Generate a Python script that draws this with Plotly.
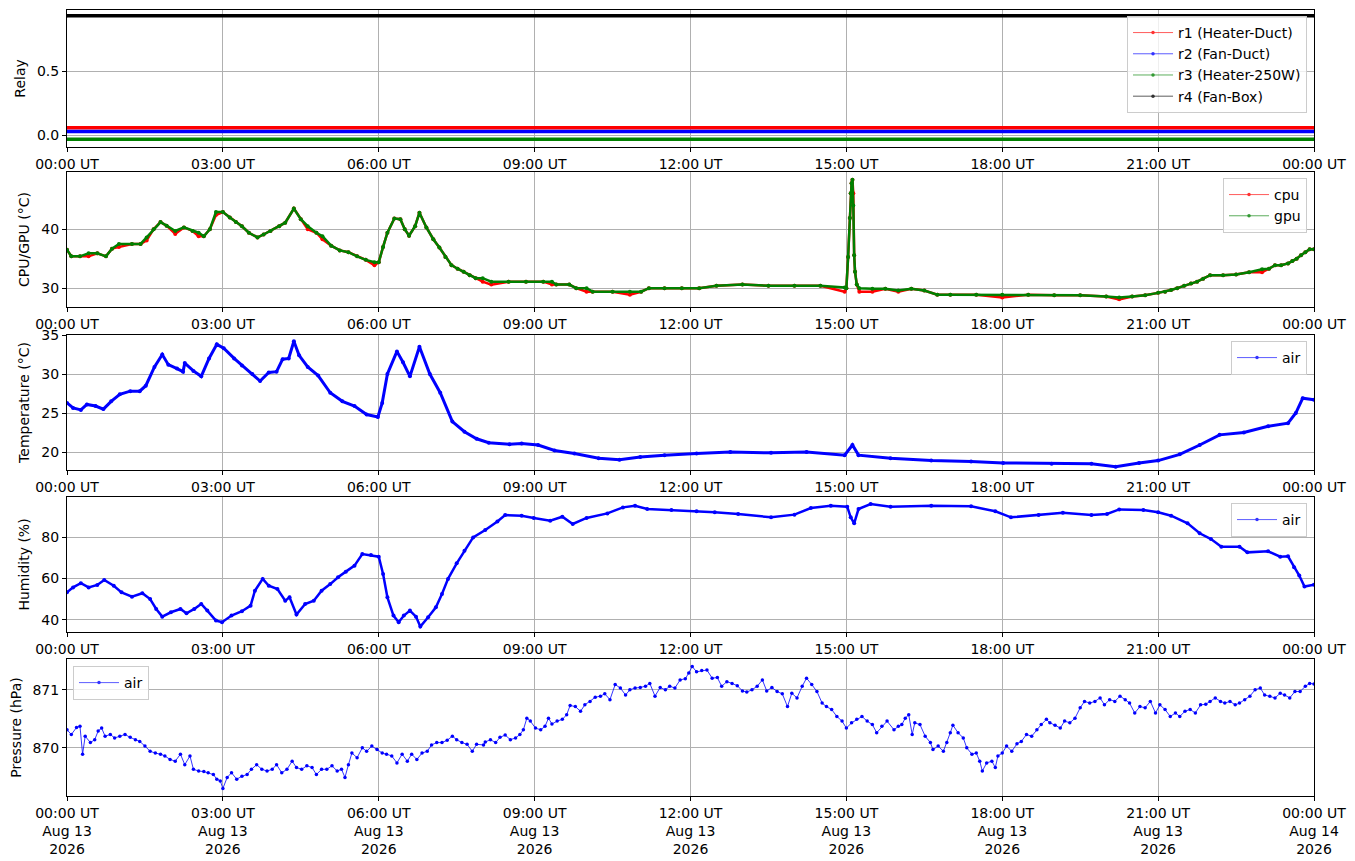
import pandas as pd
import plotly.graph_objects as go
from plotly.subplots import make_subplots

# ---- data (UT, 2026-08-13) ----
relay_times = ["00:00", "24:00"]
r1_vals = [0.06, 0.06]
r2_vals = [0.03, 0.03]
r3_vals = [-0.03, -0.03]
r4_vals = [0.93, 0.93]

chip_times = ["00:00", "00:05", "00:15", "00:25", "00:35", "00:45", "00:52", "01:00", "01:15", "01:25",
              "01:32", "01:40", "01:48", "01:55", "02:05", "02:15", "02:25", "02:32", "02:38", "02:45",
              "02:52", "03:00", "03:08", "03:15", "03:22", "03:30", "03:40", "03:47", "03:55", "04:05",
              "04:12", "04:22", "04:30", "04:38", "04:48", "04:55", "05:05", "05:15", "05:25", "05:35",
              "05:45", "05:55", "06:00", "06:05", "06:10", "06:18", "06:25", "06:30", "06:35", "06:42",
              "06:47", "06:55", "07:03", "07:10", "07:17", "07:24", "07:31", "07:38", "07:45", "07:52",
              "08:00", "08:10", "08:30", "08:50", "09:10", "09:20", "09:25", "09:40", "09:48", "10:00",
              "10:07", "10:30", "10:50", "11:03", "11:12", "11:30", "11:50", "12:10", "12:30", "13:00",
              "13:30", "14:00", "14:30", "14:58", "15:00", "15:02", "15:04", "15:05", "15:06", "15:07",
              "15:08", "15:09", "15:10", "15:12", "15:15", "15:30", "15:45", "16:00", "16:15", "16:30",
              "16:45", "17:00", "17:30", "18:00", "18:30", "19:00", "19:30", "20:00", "20:15", "20:30",
              "20:45", "21:00", "21:08", "21:15", "21:22", "21:30", "21:38", "21:45", "21:52", "22:00",
              "22:15", "22:30", "22:45", "23:00", "23:08", "23:15", "23:22", "23:30", "23:35", "23:40",
              "23:45", "23:50", "23:55", "24:00"]
cpu_vals = [36.5, 35.4, 35.4, 35.4, 35.9, 35.4, 36.7, 37.0, 37.5, 37.5,
            38.1, 40.0, 41.2, 40.6, 39.2, 40.3, 39.7, 38.8, 38.8, 40.0,
            42.4, 42.9, 42.0, 41.2, 40.5, 39.4, 38.6, 39.1, 39.7, 40.5,
            41.1, 43.5, 41.7, 40.0, 39.4, 38.3, 37.2, 36.4, 36.1, 35.4,
            34.8, 33.9, 34.4, 37.0, 39.4, 41.8, 41.7, 40.0, 38.9, 40.5,
            42.8, 40.3, 38.3, 36.9, 35.3, 33.9, 33.3, 32.8, 32.2, 31.7,
            31.1, 30.6, 31.1, 31.1, 31.1, 30.6, 30.6, 30.6, 30.0, 29.4,
            29.4, 29.4, 28.9, 29.4, 30.0, 30.0, 30.0, 30.0, 30.4, 30.6,
            30.4, 30.4, 30.4, 29.4, 30.0, 35.3, 41.9, 46.1, 47.8, 48.4,
            46.1, 35.6, 32.8, 30.6, 29.4, 29.4, 29.9, 29.4, 29.9, 29.6,
            28.9, 28.9, 28.9, 28.4, 28.9, 28.8, 28.8, 28.6, 28.1, 28.6,
            28.8, 29.2, 29.4, 29.7, 30.0, 30.4, 30.8, 31.1, 31.6, 32.2,
            32.2, 32.3, 32.7, 32.7, 33.3, 33.9, 33.9, 34.2, 34.6, 35.0,
            35.6, 36.1, 36.6, 36.6]
gpu_vals = [36.5, 35.4, 35.4, 35.9, 35.9, 35.4, 36.7, 37.5, 37.5, 37.5,
            38.6, 40.0, 41.2, 40.6, 39.7, 40.3, 39.7, 39.4, 38.8, 40.0,
            42.9, 42.9, 42.0, 41.2, 40.5, 39.4, 38.6, 39.1, 39.7, 40.5,
            41.1, 43.5, 41.7, 40.5, 39.4, 38.8, 37.2, 36.4, 36.1, 35.4,
            34.8, 34.4, 34.4, 37.0, 39.4, 41.8, 41.7, 40.0, 38.9, 40.5,
            42.8, 40.3, 38.3, 36.9, 35.3, 33.9, 33.3, 32.8, 32.2, 31.7,
            31.7, 31.1, 31.1, 31.1, 31.1, 31.1, 30.6, 30.6, 30.0, 30.0,
            29.4, 29.4, 29.4, 29.4, 30.0, 30.0, 30.0, 30.0, 30.4, 30.6,
            30.4, 30.4, 30.4, 30.1, 30.0, 35.3, 41.9, 46.1, 47.8, 48.4,
            44.0, 35.6, 32.8, 30.6, 30.0, 29.9, 29.9, 29.6, 29.9, 29.6,
            28.9, 28.9, 28.9, 28.9, 28.9, 28.8, 28.8, 28.6, 28.4, 28.6,
            28.8, 29.2, 29.4, 29.7, 30.0, 30.4, 30.8, 31.1, 31.6, 32.2,
            32.2, 32.3, 32.7, 33.2, 33.3, 33.9, 33.9, 34.2, 34.6, 35.0,
            35.6, 36.1, 36.6, 36.6]

temp_times = ["00:00", "00:07", "00:16", "00:23", "00:33", "00:42", "00:51", "01:01", "01:13", "01:24",
              "01:31", "01:41", "01:50", "01:57", "02:07", "02:14", "02:16", "02:26", "02:35", "02:44",
              "02:53", "03:01", "03:13", "03:22", "03:34", "03:43", "03:53", "04:02", "04:09", "04:16",
              "04:22", "04:28", "04:38", "04:50", "05:04", "05:18", "05:32", "05:46", "05:59", "06:04",
              "06:10", "06:21", "06:28", "06:36", "06:47", "06:59", "07:11", "07:25", "07:39", "07:53",
              "08:07", "08:31", "08:45", "09:04", "09:23", "09:46", "10:14", "10:38", "11:02", "11:30",
              "12:07", "12:46", "13:33", "14:14", "14:58", "15:07", "15:14", "15:51", "16:38", "17:24",
              "18:01", "18:57", "19:43", "20:11", "20:38", "21:00", "21:25", "21:48", "22:11", "22:39",
              "23:07", "23:30", "23:39", "23:47", "24:00"]
temp_vals = [26.3, 25.65, 25.4, 26.1, 25.9, 25.5, 26.5, 27.4, 27.8, 27.8,
             28.5, 30.9, 32.5, 31.2, 30.7, 30.3, 31.4, 30.4, 29.7, 32.0,
             33.8, 33.3, 32.0, 31.1, 30.0, 29.1, 30.2, 30.3, 31.9, 32.0,
             34.2, 32.4, 30.9, 29.8, 27.6, 26.5, 25.9, 24.8, 24.5, 26.3,
             30.0, 32.9, 31.5, 29.7, 33.5, 30.0, 27.6, 23.9, 22.6, 21.7,
             21.2, 21.0, 21.1, 20.9, 20.2, 19.8, 19.2, 19.0, 19.35, 19.6,
             19.8, 20.0, 19.9, 20.0, 19.6, 20.9, 19.6, 19.2, 18.9, 18.8,
             18.6, 18.5, 18.5, 18.1, 18.6, 18.9, 19.7, 20.9, 22.2, 22.5,
             23.3, 23.7, 25.0, 26.9, 26.7]

hum_times = ["00:00", "00:07", "00:16", "00:25", "00:35", "00:43", "00:54", "01:03", "01:15", "01:27",
             "01:36", "01:43", "01:50", "02:00", "02:11", "02:18", "02:27", "02:35", "02:42", "02:52",
             "02:59", "03:10", "03:22", "03:32", "03:37", "03:46", "03:53", "04:03", "04:12", "04:17",
             "04:25", "04:35", "04:45", "04:54", "05:04", "05:13", "05:22", "05:32", "05:41", "05:51",
             "06:00", "06:05", "06:10", "06:17", "06:23", "06:29", "06:36", "06:43", "06:48", "06:57",
             "07:06", "07:13", "07:20", "07:30", "07:39", "07:49", "08:03", "08:17", "08:26", "08:45",
             "08:59", "09:18", "09:32", "09:44", "10:00", "10:24", "10:42", "10:56", "11:10", "11:38",
             "12:07", "12:28", "12:55", "13:33", "14:00", "14:19", "14:42", "15:01", "15:05", "15:09",
             "15:14", "15:28", "15:51", "16:38", "17:24", "17:52", "18:10", "18:42", "19:10", "19:43",
             "20:01", "20:15", "20:43", "21:00", "21:15", "21:34", "21:48", "22:01", "22:13", "22:34",
             "22:43", "23:07", "23:21", "23:30", "23:37", "23:43", "23:49", "24:00"]
hum_vals = [53.3, 55.7, 57.7, 55.7, 56.9, 59.3, 56.5, 53.3, 51.2, 52.9,
            50.1, 45.3, 41.6, 43.7, 45.3, 43.2, 45.3, 47.7, 44.5, 39.7,
            38.9, 42.1, 44.2, 46.9, 54.1, 59.8, 56.5, 54.9, 49.3, 50.9,
            42.6, 47.7, 49.3, 54.1, 57.3, 60.6, 63.3, 66.2, 71.8, 71.3,
            70.5, 62.2, 50.9, 42.1, 38.9, 42.1, 44.5, 41.6, 36.8, 41.3,
            46.1, 52.5, 59.8, 67.3, 73.4, 79.8, 83.4, 87.5, 90.6, 90.3,
            89.2, 87.9, 89.8, 86.3, 89.2, 91.4, 94.3, 95.1, 93.5, 93.0,
            92.4, 91.9, 91.1, 89.5, 90.8, 94.0, 95.1, 94.6, 89.5, 86.6,
            93.5, 95.9, 94.6, 95.1, 94.8, 92.4, 89.5, 90.6, 91.7, 90.6,
            91.1, 93.3, 93.0, 91.9, 90.3, 86.6, 81.8, 79.0, 75.3, 75.3,
            72.6, 73.1, 70.5, 70.7, 65.4, 61.4, 56.1, 57.0]

pres_times = ["00:00", "00:05", "00:11", "00:15", "00:18", "00:21", "00:27", "00:32", "00:36", "00:40",
              "00:44", "00:50", "00:55", "01:01", "01:07", "01:13", "01:19", "01:24", "01:30", "01:36",
              "01:42", "01:48", "01:53", "01:59", "02:05", "02:11", "02:16", "02:22", "02:26", "02:32",
              "02:38", "02:43", "02:49", "02:53", "02:57", "03:00", "03:05", "03:10", "03:16", "03:22",
              "03:28", "03:33", "03:39", "03:45", "03:51", "03:57", "04:02", "04:08", "04:14", "04:20",
              "04:25", "04:31", "04:37", "04:43", "04:48", "04:54", "05:00", "05:06", "05:12", "05:17",
              "05:21", "05:25", "05:29", "05:35", "05:41", "05:46", "05:52", "05:58", "06:04", "06:09",
              "06:15", "06:21", "06:27", "06:33", "06:38", "06:44", "06:50", "06:56", "07:01", "07:07",
              "07:13", "07:19", "07:25", "07:30", "07:36", "07:42", "07:48", "07:53", "08:01", "08:03",
              "08:09", "08:15", "08:20", "08:26", "08:32", "08:38", "08:43", "08:47", "08:51", "08:55",
              "09:01", "09:07", "09:12", "09:16", "09:20", "09:26", "09:32", "09:37", "09:41", "09:47",
              "09:53", "09:58", "10:04", "10:10", "10:16", "10:21", "10:27", "10:33", "10:39", "10:45",
              "10:50", "10:56", "11:02", "11:08", "11:13", "11:19", "11:25", "11:31", "11:36", "11:42",
              "11:48", "11:54", "11:58", "12:02", "12:07", "12:13", "12:19", "12:25", "12:31", "12:36",
              "12:42", "12:48", "12:54", "13:00", "13:05", "13:11", "13:17", "13:23", "13:28", "13:34",
              "13:40", "13:46", "13:52", "13:57", "14:03", "14:09", "14:14", "14:20", "14:26", "14:32",
              "14:37", "14:43", "14:49", "14:55", "15:00", "15:06", "15:12", "15:18", "15:24", "15:30",
              "15:35", "15:41", "15:47", "15:55", "16:00", "16:04", "16:08", "16:12", "16:16", "16:19",
              "16:25", "16:31", "16:37", "16:40", "16:46", "16:52", "16:56", "17:00", "17:03", "17:09",
              "17:15", "17:19", "17:25", "17:30", "17:34", "17:37", "17:42", "17:48", "17:52", "17:55",
              "18:00", "18:05", "18:11", "18:17", "18:22", "18:28", "18:34", "18:40", "18:45", "18:51",
              "18:55", "19:01", "19:07", "19:12", "19:18", "19:24", "19:30", "19:35", "19:41", "19:47",
              "19:53", "19:58", "20:04", "20:10", "20:16", "20:22", "20:27", "20:33", "20:39", "20:45",
              "20:51", "20:57", "21:02", "21:08", "21:14", "21:20", "21:25", "21:31", "21:37", "21:43",
              "21:49", "21:55", "22:00", "22:06", "22:12", "22:17", "22:23", "22:29", "22:34", "22:40",
              "22:46", "22:52", "22:58", "23:03", "23:09", "23:15", "23:21", "23:26", "23:32", "23:38",
              "23:44", "23:50", "23:55", "24:00"]
pres_vals = [870.31, 870.23, 870.35, 870.37, 869.89, 870.20, 870.09, 870.14, 870.29, 870.34,
             870.20, 870.23, 870.17, 870.20, 870.23, 870.18, 870.14, 870.11, 870.03, 869.94,
             869.91, 869.89, 869.86, 869.80, 869.77, 869.89, 869.71, 869.86, 869.63, 869.60,
             869.59, 869.57, 869.54, 869.46, 869.43, 869.30, 869.49, 869.57, 869.46, 869.51,
             869.54, 869.63, 869.71, 869.63, 869.60, 869.63, 869.71, 869.57, 869.63, 869.77,
             869.66, 869.63, 869.69, 869.66, 869.54, 869.63, 869.63, 869.69, 869.60, 869.63,
             869.49, 869.71, 869.91, 869.83, 870.00, 869.94, 870.03, 869.97, 869.91, 869.89,
             869.86, 869.74, 869.89, 869.77, 869.89, 869.80, 869.91, 869.94, 870.05, 870.09,
             870.09, 870.13, 870.20, 870.14, 870.09, 870.06, 869.94, 870.06, 870.05, 870.10,
             870.14, 870.09, 870.18, 870.22, 870.14, 870.17, 870.23, 870.31, 870.51, 870.46,
             870.34, 870.31, 870.37, 870.51, 870.41, 870.46, 870.49, 870.57, 870.73, 870.71,
             870.63, 870.74, 870.80, 870.87, 870.89, 870.93, 870.83, 871.09, 871.03, 870.91,
             871.00, 871.03, 871.04, 871.06, 871.11, 870.89, 871.04, 871.00, 871.06, 871.03,
             871.17, 871.19, 871.29, 871.40, 871.31, 871.33, 871.34, 871.20, 871.21, 871.06,
             871.14, 871.11, 871.07, 870.98, 870.96, 871.00, 871.06, 871.17, 870.98, 871.04,
             870.97, 870.93, 870.71, 870.94, 870.86, 871.06, 871.20, 871.09, 870.97, 870.77,
             870.71, 870.66, 870.54, 870.46, 870.34, 870.43, 870.49, 870.54, 870.46, 870.40,
             870.26, 870.37, 870.46, 870.31, 870.37, 870.40, 870.51, 870.57, 870.23, 870.43,
             870.40, 870.20, 870.09, 869.97, 870.03, 869.94, 870.09, 870.26, 870.39, 870.26,
             870.17, 870.00, 869.89, 869.91, 869.77, 869.60, 869.74, 869.77, 869.66, 869.86,
             869.91, 870.03, 869.94, 870.07, 870.11, 870.23, 870.20, 870.31, 870.40, 870.49,
             870.43, 870.39, 870.34, 870.46, 870.43, 870.51, 870.69, 870.80, 870.77, 870.80,
             870.86, 870.74, 870.83, 870.80, 870.89, 870.83, 870.77, 870.60, 870.71, 870.69,
             870.80, 870.60, 870.74, 870.66, 870.54, 870.60, 870.54, 870.63, 870.66, 870.60,
             870.74, 870.75, 870.80, 870.86, 870.80, 870.77, 870.80, 870.74, 870.77, 870.83,
             870.89, 871.00, 871.03, 870.91, 870.89, 870.86, 870.94, 870.91, 870.86, 870.97,
             870.97, 871.06, 871.11, 871.10]

tick_hours = [0, 3, 6, 9, 12, 15, 18, 21, 24]


def to_time(hhmm_list):
    day = pd.Timestamp("2026-08-13")
    out = []
    for s in hhmm_list:
        h, m = s.split(":")
        out.append(day + pd.Timedelta(hours=int(h), minutes=int(m)))
    return out


FONT = "DejaVu Sans"
day0 = pd.Timestamp("2026-08-13")
tick_vals = [day0 + pd.Timedelta(hours=h) for h in tick_hours]
tick_text = [f"{t:%H:%M} UT" for t in tick_vals]
tick_text_full = [f"{t:%H:%M} UT<br>{t:%b %d}<br>{t:%Y}" for t in tick_vals]

fig = make_subplots(rows=5, cols=1, vertical_spacing=0.03)


def add_series(row, x, y, color, name, legend, lw=0.6, ms=3):
    fig.add_trace(go.Scatter(x=x, y=y, mode="lines+markers", name=name,
                             line={"color": color, "width": lw},
                             marker={"color": color, "size": ms},
                             showlegend=False, hoverinfo="skip"), row=row, col=1)
    # legend entry drawn thin, like the original
    fig.add_trace(go.Scatter(x=[None], y=[None], mode="lines+markers", name=name,
                             line={"color": color, "width": 0.8}, opacity=0.8,
                             marker={"color": color, "size": 3.5},
                             legend=legend), row=row, col=1)


rt = to_time(relay_times)
add_series(1, rt, r1_vals, "red", "r1 (Heater-Duct)", "legend", lw=3.5)
add_series(1, rt, r2_vals, "blue", "r2 (Fan-Duct)", "legend", lw=3.5)
add_series(1, rt, r3_vals, "green", "r3 (Heater-250W)", "legend", lw=3.5)
add_series(1, rt, r4_vals, "black", "r4 (Fan-Box)", "legend", lw=3.5)

ct = to_time(chip_times)
add_series(2, ct, cpu_vals, "red", "cpu", "legend2", lw=2.5, ms=4)
add_series(2, ct, gpu_vals, "green", "gpu", "legend2", lw=2.5, ms=4)

add_series(3, to_time(temp_times), temp_vals, "blue", "air", "legend3", lw=3, ms=4)
add_series(4, to_time(hum_times), hum_vals, "blue", "air", "legend4", lw=2.5, ms=4)
add_series(5, to_time(pres_times), pres_vals, "blue", "air", "legend5", lw=0.8, ms=3.5)

domains = [[0.8257, 1.0], [0.6221, 0.7939], [0.4148, 0.5865], [0.2087, 0.3804], [0.0, 0.1743]]
y_ranges = [[-0.09, 0.975], [26.8, 49.7], [17.7, 35.0], [34.2, 99.3], [869.17, 871.53]]
y_ticks = [[0, 0.5], [30, 40], [20, 25, 30, 35], [40, 60, 80], [870, 871]]
y_ticktext = [["0.0", "0.5"], None, None, None, None]
y_titles = ["Relay", "CPU/GPU (°C)", "Temperature (°C)", "Humidity (%)", "Pressure (hPa)"]

axis_common = dict(showline=True, linecolor="black", linewidth=1, mirror=True,
                   ticks="outside", ticklen=4, tickcolor="black", automargin=False,
                   showgrid=True, gridcolor="#b0b0b0", gridwidth=0.8, zeroline=False,
                   tickfont={"family": FONT, "size": 14, "color": "black"})

for i in range(5):
    n = "" if i == 0 else str(i + 1)
    fig.layout["xaxis" + n].update(
        domain=[0, 1], range=[tick_vals[0], tick_vals[-1]],
        tickmode="array", tickvals=tick_vals,
        ticktext=tick_text_full if i == 4 else tick_text, **axis_common)
    yk = dict(domain=domains[i], range=y_ranges[i], tickmode="array", tickvals=y_ticks[i],
              title={"text": y_titles[i], "font": {"family": FONT, "size": 14, "color": "black"},
                     "standoff": 8}, **axis_common)
    if y_ticktext[i]:
        yk["ticktext"] = y_ticktext[i]
    fig.layout["yaxis" + n].update(**yk)

legend_style = dict(bgcolor="rgba(255,255,255,0.8)", bordercolor="#cccccc", borderwidth=1,
                    font={"family": FONT, "size": 14, "color": "black"}, itemwidth=40,
                    tracegroupgap=2)
fig.update_layout(
    width=1355, height=861,
    margin={"l": 59, "r": 49, "t": 2, "b": 73},
    plot_bgcolor="white", paper_bgcolor="white",
    font={"family": FONT, "size": 14, "color": "black"},
    legend=dict(x=0.9944, y=0.9924, xanchor="right", yanchor="top", **legend_style),
    legend2=dict(x=0.9944, y=0.7863, xanchor="right", yanchor="top", **legend_style),
    legend3=dict(x=0.9944, y=0.5789, xanchor="right", yanchor="top", **legend_style),
    legend4=dict(x=0.9944, y=0.3728, xanchor="right", yanchor="top", **legend_style),
    legend5=dict(x=0.0048, y=0.1654, xanchor="left", yanchor="top", **legend_style),
)

fig.write_html("out.html")
